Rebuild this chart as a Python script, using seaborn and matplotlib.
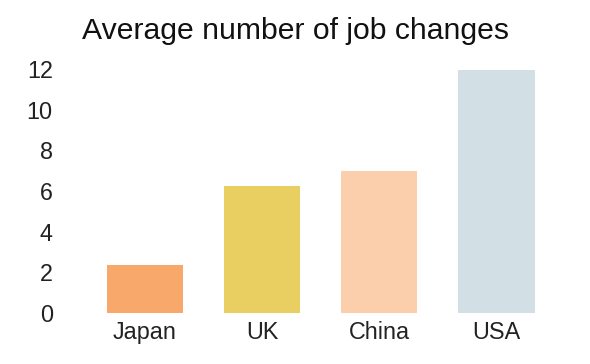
import matplotlib
matplotlib.use("Agg")
import matplotlib.pyplot as plt
import seaborn as sns
import pandas as pd

### data

countries = ["Japan", "UK", "China", "USA"]
job_changes = [2.35, 6.25, 7.0, 11.95]
bar_colors = ["#F7A86A", "#E9CF62", "#FBCFAC", "#D2E0E5"]
y_ticks = [0, 2, 4, 6, 8, 10, 12]

df = pd.DataFrame({"Country": countries, "Job changes": job_changes})

sns.set_theme(style="white")
plt.rcParams["font.family"] = ["Liberation Sans", "DejaVu Sans"]

fig = plt.figure(figsize=(5.9, 3.64), dpi=100)
ax = fig.add_axes([0.146, 0.140, 0.795, 0.670])

sns.barplot(data=df, x="Country", y="Job changes", hue="Country",
            palette=bar_colors, width=0.65, legend=False, ax=ax,
            saturation=1, edgecolor="none")

ax.set_ylim(0, 12)
ax.set_yticks(y_ticks)
ax.set_xlabel("")
ax.set_ylabel("")
ax.tick_params(axis="both", length=0, labelsize=16.8, colors="#222222")
ax.tick_params(axis="y", pad=24)
ax.tick_params(axis="x", pad=6)
sns.despine(ax=ax, left=True, bottom=True)

fig.text(0.5, 0.915, "Average number of job changes", ha="center", va="center",
         fontsize=21.7, color="#111111")

fig.savefig("out.png", dpi=100)
